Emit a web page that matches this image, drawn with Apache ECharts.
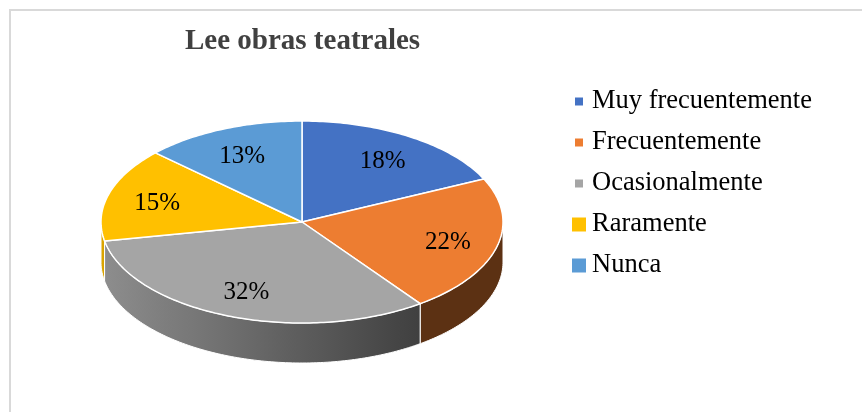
<!DOCTYPE html>
<html>
<head>
<meta charset="utf-8">
<script src="https://cdn.jsdelivr.net/npm/echarts@6/dist/echarts.min.js"></script>
<style>
html, body { margin: 0; padding: 0; background: #fff; }
#main { width: 862px; height: 412px; }
</style>
</head>
<body>
<div id="main"></div>
<script>
var categories = ['Muy frecuentemente', 'Frecuentemente', 'Ocasionalmente', 'Raramente', 'Nunca'];
var values = [18, 22, 32, 15, 13];
var colors = ['#4472c4', '#ed7d31', '#a5a5a5', '#ffc000', '#5b9bd5'];

var FONT = '"Liberation Serif", "Times New Roman", serif';

// 3D pie geometry, first slice starts at 12 o'clock and goes clockwise
var pie = { cx: 302, cy: 222, rx: 201, ry: 101, depth: 40, kx: 0.75, ky: 0.73 };

var total = values.reduce(function (a, b) { return a + b; }, 0);
var starts = [];
var acc = 0;
values.forEach(function (v) {
  starts.push(acc / total * 360);
  acc += v;
});

function pt(theta, dy) {
  var t = theta * Math.PI / 180;
  return [pie.cx + pie.rx * Math.sin(t), pie.cy - pie.ry * Math.cos(t) + (dy || 0)];
}

function arc(a0, a1, dy) {
  var pts = [];
  var n = Math.max(2, Math.ceil(Math.abs(a1 - a0)));
  for (var k = 0; k <= n; k++) {
    pts.push(pt(a0 + (a1 - a0) * k / n, dy));
  }
  return pts;
}

function shade(hex, f) {
  var n = parseInt(hex.slice(1), 16);
  var r = Math.round(((n >> 16) & 255) * f);
  var g = Math.round(((n >> 8) & 255) * f);
  var b = Math.round((n & 255) * f);
  return 'rgb(' + r + ',' + g + ',' + b + ')';
}

// side walls: lighter on the left, darker to the right
function sideFill(color, x0, x1) {
  var stops = [];
  for (var k = 0; k <= 10; k++) {
    var x = x0 + (x1 - x0) * k / 10;
    var u = (x - (pie.cx - pie.rx)) / (2 * pie.rx);
    var f = Math.max(0.39, 0.86 - 0.6 * u);
    stops.push({ offset: k / 10, color: shade(color, f) });
  }
  return new echarts.graphic.LinearGradient(x0, 0, x1 === x0 ? x0 + 1 : x1, 0, stops, true);
}

function renderSlice(params, api) {
  var i = params.seriesIndex;
  var color = colors[i];
  var v = api.value(0);
  var a0 = starts[i];
  var a1 = a0 + v / total * 360;
  var children = [];

  // front wall (visible part between 90 and 270 deg)
  var s0 = Math.max(a0, 90);
  var s1 = Math.min(a1, 270);
  if (s1 > s0) {
    var top = arc(s0, s1, 0);
    var bottom = arc(s1, s0, pie.depth);
    var xs = top.map(function (p) { return p[0]; });
    var xmin = Math.min.apply(null, xs);
    var xmax = Math.max.apply(null, xs);
    children.push({
      type: 'polygon',
      shape: { points: top.concat(bottom) },
      style: { fill: sideFill(color, xmin, xmax), stroke: '#fff', lineWidth: 1 },
      z2: 1
    });
  }

  // top face
  children.push({
    type: 'polygon',
    shape: { points: [[pie.cx, pie.cy]].concat(arc(a0, a1, 0)) },
    style: { fill: color, stroke: '#fff', lineWidth: 1.5, lineJoin: 'round' },
    z2: 2
  });

  // percentage label
  var mid = (a0 + a1) / 2 * Math.PI / 180;
  children.push({
    type: 'text',
    x: pie.cx + pie.kx * pie.rx * Math.sin(mid),
    y: pie.cy - pie.ky * pie.ry * Math.cos(mid) + 2,
    style: {
      text: v + '%',
      fill: '#000',
      font: '25px ' + FONT,
      align: 'center',
      verticalAlign: 'middle'
    },
    z2: 5
  });

  return { type: 'group', children: children };
}

var chart = echarts.init(document.getElementById('main'));

var option = {
  animation: false,
  backgroundColor: '#fff',
  title: {
    text: 'Lee obras teatrales',
    left: 185,
    top: 27,
    padding: 0,
    textStyle: {
      fontFamily: FONT,
      fontSize: 29,
      fontWeight: 'bold',
      color: '#404040'
    }
  },
  legend: [
    {
      data: categories.slice(0, 3).map(function (n) { return { name: n, icon: 'rect' }; }),
      orient: 'vertical',
      left: 575,
      top: 86.5,
      padding: 0,
      itemWidth: 8,
      itemHeight: 8,
      itemGap: 11,
      selectedMode: false,
      textStyle: { fontFamily: FONT, fontSize: 26.5, lineHeight: 30, color: '#000', padding: [0, 0, 0, 4] }
    },
    {
      data: categories.slice(3).map(function (n) { return { name: n, icon: 'rect' }; }),
      orient: 'vertical',
      left: 572,
      top: 209.5,
      padding: 0,
      itemWidth: 14,
      itemHeight: 14,
      itemGap: 11,
      selectedMode: false,
      textStyle: { fontFamily: FONT, fontSize: 26.5, lineHeight: 30, color: '#000', padding: [0, 0, 0, 1] }
    }
  ],
  graphic: [
    {
      type: 'polyline',
      shape: { points: [[10, 500], [10, 10], [900, 10]] },
      style: { stroke: '#d9d9d9', lineWidth: 2, fill: null },
      silent: true
    }
  ],
  series: categories.map(function (name, i) {
    return {
      type: 'custom',
      name: name,
      coordinateSystem: 'none',
      data: [[values[i]]],
      itemStyle: { color: colors[i] },
      renderItem: renderSlice
    };
  })
};

chart.setOption(option);
</script>
</body>
</html>
